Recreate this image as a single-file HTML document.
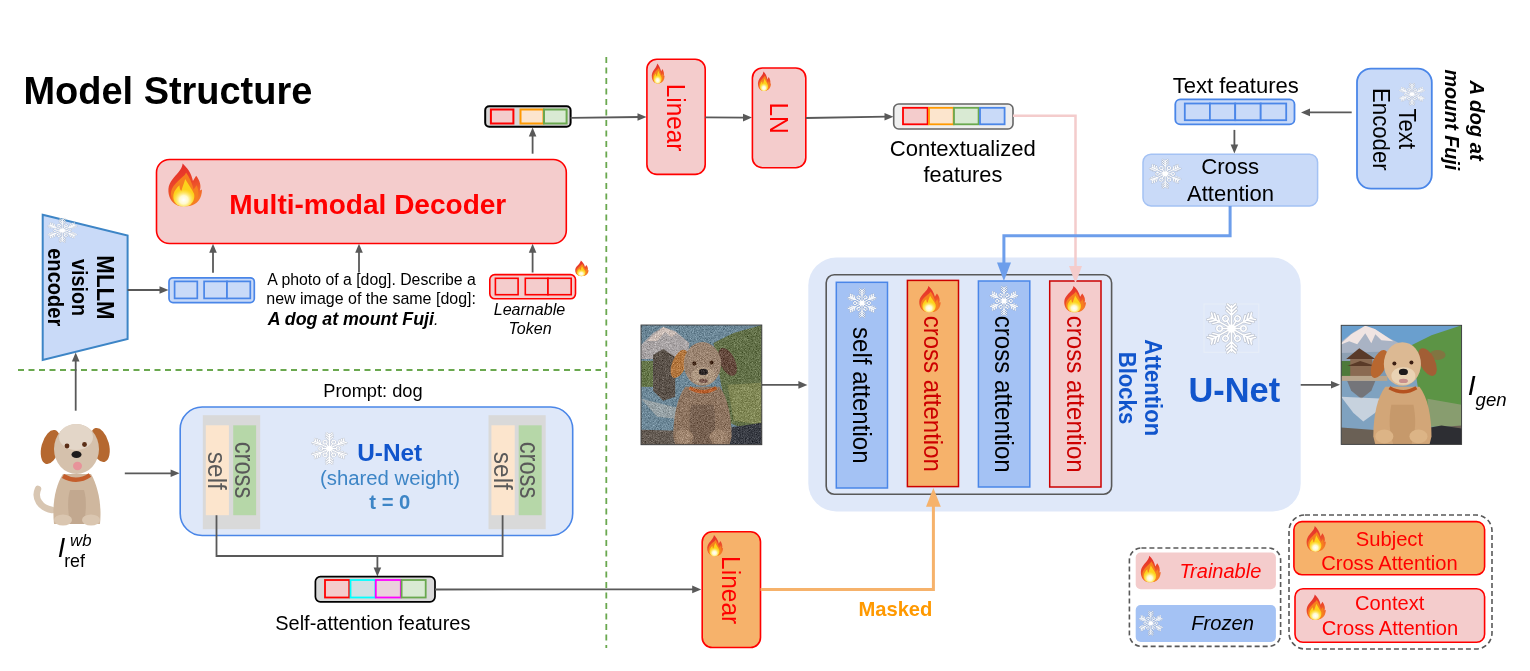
<!DOCTYPE html><html><head><meta charset="utf-8"><style>html,body{margin:0;padding:0;background:#fff;width:1530px;height:671px;overflow:hidden}svg{display:block;font-family:"Liberation Sans", sans-serif;will-change:transform}</style></head><body>
<svg width="1530" height="671" viewBox="0 0 1530 671">
<defs>
<linearGradient id="fg" x1="0" y1="0" x2="0.3" y2="1"><stop offset="0" stop-color="#e3262b"/><stop offset="0.6" stop-color="#ec4a2a"/><stop offset="1" stop-color="#f5792a"/></linearGradient>
<radialGradient id="fc" cx="0.5" cy="0.62" r="0.55"><stop offset="0" stop-color="#ffffff"/><stop offset="0.4" stop-color="#fffbd6" stop-opacity="0.95"/><stop offset="1" stop-color="#fff06a" stop-opacity="0"/></radialGradient>
<g id="flame">
<path d="M13.8 0 C18 4 22 9 23.5 16.5 C24.5 14.5 25.5 13 26.5 11.5 C30 16 31.5 21 30 25.5 C30.8 25.2 31.5 25 32 24.5 C31.8 33 28 38.5 20 40 C17 40.5 12 40.5 9 39.5 C3 37 0 31 0.4 24 C1 17 6 13 10 8 C12 5.5 13.5 3 13.8 0 Z" fill="url(#fg)"/>
<path d="M17 8.5 C20 13 23 19 24 24.5 C25 23.5 26 22 27 20.5 C29.5 26 29 32 26.5 36 C23.5 39.5 19 40 15 40 C9 40 3.5 36.5 2.8 29 C2.5 22 8 18 12 14 C14.5 12 16.5 10.5 17 8.5 Z" fill="#f6801f"/>
<path d="M16.2 14.6 C18.5 19 22.5 24 24.5 28.5 C25.5 32.5 24 37 20 39.5 C17 40.6 12 40.6 9 39 C5.5 37 4.5 33 5.2 29 C6 25.5 8.5 22.5 10.8 20.5 C10.8 23 11.5 25 12.5 26 C13.5 22 15.5 18 16.2 14.6 Z" fill="#fdd21c"/>
<ellipse cx="14.8" cy="32" rx="9.5" ry="9" fill="url(#fc)"/>
</g>
<g id="snowarm"><path d="M0 -1 L0 -15.5 M0 -9 L-3.2 -12.2 M0 -9 L3.2 -12.2 M0 -11.5 L-3.2 -14.7 M0 -11.5 L3.2 -14.7 M0 -14 L-2.6 -16.6 M0 -14 L2.6 -16.6"/><path d="M0 0 L0 -6" transform="rotate(30)"/><circle cx="0" cy="-7.8" r="1.8" transform="rotate(30)"/></g>
<g id="snowall"><use href="#snowarm"/><use href="#snowarm" transform="rotate(60)"/><use href="#snowarm" transform="rotate(120)"/><use href="#snowarm" transform="rotate(180)"/><use href="#snowarm" transform="rotate(240)"/><use href="#snowarm" transform="rotate(300)"/></g>
<g id="snow">
<g stroke="#7a7a7a" stroke-width="1.9" fill="none" stroke-linecap="round" opacity="0.3"><use href="#snowall"/></g>
<g stroke="#ffffff" stroke-width="1.0" fill="none" stroke-linecap="round"><use href="#snowall"/></g>
<circle r="2.8" fill="#fff"/>
</g>
</defs>
<line x1="18" y1="370" x2="601" y2="370" stroke="#6aa84f" stroke-width="1.8" stroke-dasharray="6 4.5"/>
<line x1="606.3" y1="57" x2="606.3" y2="648" stroke="#6aa84f" stroke-width="1.8" stroke-dasharray="6 4.5"/>
<text x="23.53" y="104.00" font-size="37.95" fill="#000" font-weight="bold" font-style="normal" >Model Structure</text>
<rect x="156.5" y="159.5" width="409.8" height="84.0" rx="13.0" fill="#f4cccc" stroke="#ff0000" stroke-width="1.6" />
<text x="229.18" y="214.00" font-size="28.03" fill="#ff0000" font-weight="bold" font-style="normal" >Multi-modal Decoder</text>
<use href="#flame" transform="translate(168.0,163.5) scale(1.0625,1.0625)"/>
<polygon points="42.7,214.7 127.6,235.5 127.6,339 42.7,360" fill="#c9daf8" stroke="#3d85c6" stroke-width="2"/>
<use href="#snow" transform="translate(62.3,230.4) scale(0.9125,0.7125)"/>
<text font-size="22.25" fill="#000" font-weight="bold" font-style="normal" transform="translate(97.00,255.35) rotate(90) scale(1,1.070)">MLLM</text>
<text font-size="19.79" fill="#000" font-weight="bold" font-style="normal" transform="translate(71.80,259.00) rotate(90) scale(1,1.070)">vision</text>
<text font-size="20.10" fill="#000" font-weight="bold" font-style="normal" transform="translate(48.00,248.20) rotate(90) scale(1,1.070)">encoder</text>
<rect x="169.0" y="277.8" width="85.3" height="24.8" rx="4.0" fill="#c9daf8" stroke="#4a86e8" stroke-width="1.7" />
<rect x="174.6" y="281.4" width="22.7" height="17.0" rx="0.0" fill="#c9daf8" stroke="#4a86e8" stroke-width="1.7" />
<rect x="204.1" y="281.4" width="22.9" height="17.0" rx="0.0" fill="#c9daf8" stroke="#4a86e8" stroke-width="1.7" />
<rect x="227.0" y="281.4" width="23.3" height="17.0" rx="0.0" fill="#c9daf8" stroke="#4a86e8" stroke-width="1.7" />
<polyline points="127.6,290.0 162.2,290.0" fill="none" stroke="#595959" stroke-width="1.8"/><polygon points="168.5,290.0 159.5,286.2 159.5,293.8" fill="#595959"/>
<polyline points="213.0,272.7 213.0,250.1" fill="none" stroke="#595959" stroke-width="1.8"/><polygon points="213.0,243.8 209.2,252.8 216.8,252.8" fill="#595959"/>
<polyline points="359.0,272.5 359.0,250.1" fill="none" stroke="#595959" stroke-width="1.8"/><polygon points="359.0,243.8 355.2,252.8 362.8,252.8" fill="#595959"/>
<polyline points="532.6,272.5 532.6,250.1" fill="none" stroke="#595959" stroke-width="1.8"/><polygon points="532.6,243.8 528.8,252.8 536.4,252.8" fill="#595959"/>
<text x="267.30" y="284.60" font-size="15.83" fill="#000" font-weight="normal" font-style="normal" >A photo of a [dog]. Describe a</text>
<text x="266.26" y="303.60" font-size="15.99" fill="#000" font-weight="normal" font-style="normal" >new image of the same [dog]:</text>
<text x="267.66" y="324.7" font-size="17.79" fill="#000"><tspan font-weight="bold" font-style="italic">A dog at mount Fuji</tspan><tspan font-style="italic" font-size="15.8">.</tspan></text>
<rect x="489.8" y="274.6" width="85.7" height="24.2" rx="5.0" fill="#f4cccc" stroke="#ff0000" stroke-width="1.6" />
<rect x="495.4" y="278.3" width="22.7" height="16.4" rx="0.0" fill="#f4cccc" stroke="#ff0000" stroke-width="1.6" />
<rect x="525.3" y="278.3" width="22.7" height="16.4" rx="0.0" fill="#f4cccc" stroke="#ff0000" stroke-width="1.6" />
<rect x="548.0" y="278.3" width="23.2" height="16.4" rx="0.0" fill="#f4cccc" stroke="#ff0000" stroke-width="1.6" />
<use href="#flame" transform="translate(575.0,260.6) scale(0.4250,0.3850)"/>
<text x="493.72" y="314.90" font-size="16.07" fill="#000" font-weight="normal" font-style="italic" >Learnable</text>
<text x="508.56" y="333.85" font-size="16.04" fill="#000" font-weight="normal" font-style="italic" >Token</text>
<rect x="485.2" y="106.3" width="85.4" height="20.5" rx="4.0" fill="#d9d9d9" stroke="#000" stroke-width="2" />
<rect x="490.9" y="109.5" width="22.5" height="14.0" rx="0.0" fill="#f4cccc" stroke="#ff0000" stroke-width="2" />
<rect x="520.5" y="109.5" width="23.0" height="14.0" rx="0.0" fill="#fce5cd" stroke="#ff9900" stroke-width="2" />
<rect x="544.0" y="109.5" width="22.6" height="14.0" rx="0.0" fill="#d9ead3" stroke="#6aa84f" stroke-width="2" />
<polyline points="532.6,153.7 532.6,133.8" fill="none" stroke="#595959" stroke-width="1.8"/><polygon points="532.6,127.5 528.8,136.5 536.4,136.5" fill="#595959"/>
<polyline points="570.6,117.8 640.2,117.0" fill="none" stroke="#595959" stroke-width="1.8"/><polygon points="646.5,117.0 637.5,113.2 637.5,120.8" fill="#595959"/>
<rect x="646.9" y="59.2" width="58.3" height="115.2" rx="10.0" fill="#f4cccc" stroke="#ff0000" stroke-width="1.6" />
<text font-size="24.37" fill="#ff0000" font-weight="normal" font-style="normal" transform="translate(666.60,83.75) rotate(90) scale(1,1.070)">Linear</text>
<use href="#flame" transform="translate(651.6,63.4) scale(0.4062,0.4975)"/>
<polyline points="705.2,117.4 745.7,117.6" fill="none" stroke="#595959" stroke-width="1.8"/><polygon points="752.0,117.6 743.0,113.8 743.0,121.4" fill="#595959"/>
<rect x="752.4" y="68.0" width="53.4" height="99.7" rx="10.0" fill="#f4cccc" stroke="#ff0000" stroke-width="1.6" />
<text font-size="24.57" fill="#ff0000" font-weight="normal" font-style="normal" transform="translate(769.90,102.43) rotate(90) scale(1,1.070)">LN</text>
<use href="#flame" transform="translate(757.8,71.4) scale(0.4125,0.4850)"/>
<polyline points="805.8,118.0 887.2,116.7" fill="none" stroke="#595959" stroke-width="1.8"/><polygon points="893.5,116.7 884.5,112.9 884.5,120.5" fill="#595959"/>
<rect x="893.7" y="104.0" width="119.3" height="25.0" rx="5.0" fill="#efefef" stroke="#666666" stroke-width="1.6" />
<rect x="903.0" y="107.8" width="24.6" height="16.5" rx="0.0" fill="#f4cccc" stroke="#ff0000" stroke-width="1.8" />
<rect x="929.0" y="107.8" width="24.6" height="16.5" rx="0.0" fill="#fce5cd" stroke="#ff9900" stroke-width="1.8" />
<rect x="954.0" y="107.8" width="24.6" height="16.5" rx="0.0" fill="#d9ead3" stroke="#6aa84f" stroke-width="1.8" />
<rect x="980.0" y="107.8" width="24.6" height="16.5" rx="0.0" fill="#c9daf8" stroke="#4a86e8" stroke-width="1.8" />
<text x="889.70" y="156.10" font-size="22.09" fill="#000" font-weight="normal" font-style="normal" >Contextualized</text>
<text x="923.57" y="182.20" font-size="21.82" fill="#000" font-weight="normal" font-style="normal" >features</text>
<text x="1172.76" y="92.70" font-size="22.03" fill="#000" font-weight="normal" font-style="normal" >Text features</text>
<rect x="1175.3" y="99.3" width="119.2" height="25.1" rx="5.0" fill="#c9daf8" stroke="#4a86e8" stroke-width="1.8" />
<rect x="1184.8" y="103.5" width="25.1" height="16.7" rx="0.0" fill="#c9daf8" stroke="#4a86e8" stroke-width="1.8" />
<rect x="1209.9" y="103.5" width="25.3" height="16.7" rx="0.0" fill="#c9daf8" stroke="#4a86e8" stroke-width="1.8" />
<rect x="1235.2" y="103.5" width="25.5" height="16.7" rx="0.0" fill="#c9daf8" stroke="#4a86e8" stroke-width="1.8" />
<rect x="1260.7" y="103.5" width="25.5" height="16.7" rx="0.0" fill="#c9daf8" stroke="#4a86e8" stroke-width="1.8" />
<polyline points="1351.7,112.4 1307.3,112.4" fill="none" stroke="#595959" stroke-width="1.8"/><polygon points="1301.0,112.4 1310.0,108.6 1310.0,116.2" fill="#595959"/>
<polyline points="1234.4,129.9 1234.4,147.2" fill="none" stroke="#595959" stroke-width="1.8"/><polygon points="1234.4,153.5 1230.6,144.5 1238.2,144.5" fill="#595959"/>
<rect x="1143.0" y="154.2" width="174.6" height="51.7" rx="8.0" fill="#c9daf8" stroke="#a4c2f4" stroke-width="1.5" />
<text x="1201.19" y="174.30" font-size="22.18" fill="#000" font-weight="normal" font-style="normal" >Cross</text>
<text x="1187.00" y="201.30" font-size="22.06" fill="#000" font-weight="normal" font-style="normal" >Attention</text>
<use href="#snow" transform="translate(1165.2,173.8) scale(0.9844,0.8625)"/>
<rect x="1357.0" y="68.6" width="74.8" height="120.1" rx="14.0" fill="#c9daf8" stroke="#4a86e8" stroke-width="1.8" />
<use href="#snow" transform="translate(1412.0,94.2) scale(0.7969,0.6531)"/>
<text font-size="22.16" fill="#000" font-weight="normal" font-style="normal" transform="translate(1399.30,108.46) rotate(90) scale(1,1.070)">Text</text>
<text font-size="22.18" fill="#000" font-weight="normal" font-style="normal" transform="translate(1372.50,88.03) rotate(90) scale(1,1.070)">Encoder</text>
<text font-size="20.27" fill="#000" font-weight="bold" font-style="italic" transform="translate(1470.00,80.51) rotate(90) scale(1,1.000)">A dog at</text>
<text font-size="19.75" fill="#000" font-weight="bold" font-style="italic" transform="translate(1445.00,69.40) rotate(90) scale(1,1.000)">mount Fuji</text>
<rect x="808.3" y="257.5" width="492.4" height="254.0" rx="28.0" fill="#dfe8f9" stroke="none" stroke-width="0" />
<rect x="826.2" y="274.8" width="285.4" height="219.4" rx="8.0" fill="none" stroke="#595959" stroke-width="1.6" />
<rect x="836.3" y="282.3" width="51.2" height="205.7" rx="0.0" fill="#a4c2f4" stroke="#4a86e8" stroke-width="1.5" />
<rect x="907.4" y="280.4" width="51.1" height="206.2" rx="0.0" fill="#f6b26b" stroke="#cc0000" stroke-width="1.5" />
<rect x="978.4" y="281.0" width="51.4" height="206.0" rx="0.0" fill="#a4c2f4" stroke="#4a86e8" stroke-width="1.5" />
<rect x="1049.7" y="281.0" width="51.3" height="206.0" rx="0.0" fill="#f4cccc" stroke="#cc0000" stroke-width="1.5" />
<use href="#snow" transform="translate(862.0,303.1) scale(0.8937,0.8594)"/>
<use href="#flame" transform="translate(919.0,285.9) scale(0.6781,0.6525)"/>
<use href="#snow" transform="translate(1004.0,301.0) scale(0.8750,0.8750)"/>
<use href="#flame" transform="translate(1064.0,285.9) scale(0.6875,0.6525)"/>
<text font-size="24.09" fill="#000" font-weight="normal" font-style="normal" transform="translate(853.00,326.98) rotate(90) scale(1,1.070)">self attention</text>
<text font-size="24.02" fill="#cc0000" font-weight="normal" font-style="normal" transform="translate(924.20,315.74) rotate(90) scale(1,1.070)">cross attention</text>
<text font-size="24.16" fill="#000" font-weight="normal" font-style="normal" transform="translate(995.00,315.73) rotate(90) scale(1,1.070)">cross attention</text>
<text font-size="24.16" fill="#cc0000" font-weight="normal" font-style="normal" transform="translate(1066.50,315.73) rotate(90) scale(1,1.070)">cross attention</text>
<text font-size="22.09" fill="#1155cc" font-weight="bold" font-style="normal" transform="translate(1144.80,339.35) rotate(90) scale(1,1.070)">Attention</text>
<text font-size="22.14" fill="#1155cc" font-weight="bold" font-style="normal" transform="translate(1118.60,351.66) rotate(90) scale(1,1.070)">Blocks</text>
<text x="1188.54" y="402.00" font-size="34.34" fill="#1155cc" font-weight="bold" font-style="normal" >U-Net</text>
<rect x="1204.0" y="304.0" width="54.8" height="48.3" rx="0.0" fill="none" stroke="#e8eef8" stroke-width="1" />
<use href="#snow" transform="translate(1231.5,328.5) scale(1.5312,1.4688)"/>
<polyline points="1300.7,384.8 1333.7,384.8" fill="none" stroke="#595959" stroke-width="1.8"/><polygon points="1340.0,384.8 1331.0,381.0 1331.0,388.6" fill="#595959"/>
<polyline points="762.0,384.9 801.1,384.9" fill="none" stroke="#595959" stroke-width="1.8"/><polygon points="807.4,384.9 798.4,381.1 798.4,388.7" fill="#595959"/>
<text x="1467.76" y="394.80" font-size="28.55" fill="#000" font-weight="normal" font-style="italic">I</text>
<text x="1475.60" y="405.60" font-size="18.64" fill="#000" font-weight="normal" font-style="italic" >gen</text>
<polyline points="1013.0,115.7 1075.5,115.7 1075.5,268.0" fill="none" stroke="#f4cccc" stroke-width="2.5"/>
<polygon points="1075.5,283.5 1069,266 1082,266" fill="#f4cccc"/>
<polyline points="1230.1,206.0 1230.1,235.8 1003.9,235.8 1003.9,264.0" fill="none" stroke="#6d9eeb" stroke-width="3"/>
<polygon points="1003.9,281 997,262.5 1011,262.5" fill="#6d9eeb"/>
<polyline points="75.7,410.7 75.7,358.7" fill="none" stroke="#595959" stroke-width="1.8"/><polygon points="75.7,352.4 71.9,361.4 79.5,361.4" fill="#595959"/>
<polyline points="124.8,473.3 173.3,473.3" fill="none" stroke="#595959" stroke-width="1.8"/><polygon points="179.6,473.3 170.6,469.5 170.6,477.1" fill="#595959"/>
<rect x="180.2" y="407.0" width="392.5" height="128.5" rx="22.0" fill="#dfe8f9" stroke="#4a86e8" stroke-width="1.6" />
<rect x="202.8" y="415.2" width="57.4" height="114.0" rx="0.0" fill="#d9d9d9" stroke="none" stroke-width="1.5" />
<rect x="205.8" y="425.3" width="23.1" height="89.9" rx="0.0" fill="#fce5cd" stroke="none" stroke-width="1.5" />
<rect x="233.2" y="425.3" width="22.9" height="89.9" rx="0.0" fill="#b6d7a8" stroke="none" stroke-width="1.5" />
<text font-size="24.51" fill="#595959" font-weight="normal" font-style="normal" transform="translate(208.00,451.76) rotate(90) scale(1,1.070)">self</text>
<text font-size="23.71" fill="#595959" font-weight="normal" font-style="normal" transform="translate(234.70,441.65) rotate(90) scale(1,1.150)">cross</text>
<rect x="488.5" y="415.2" width="57.2" height="114.0" rx="0.0" fill="#d9d9d9" stroke="none" stroke-width="1.5" />
<rect x="491.4" y="425.3" width="23.3" height="89.9" rx="0.0" fill="#fce5cd" stroke="none" stroke-width="1.5" />
<rect x="518.7" y="425.3" width="23.0" height="89.9" rx="0.0" fill="#b6d7a8" stroke="none" stroke-width="1.5" />
<text font-size="24.51" fill="#595959" font-weight="normal" font-style="normal" transform="translate(493.70,451.76) rotate(90) scale(1,1.070)">self</text>
<text font-size="23.71" fill="#595959" font-weight="normal" font-style="normal" transform="translate(520.40,441.65) rotate(90) scale(1,1.150)">cross</text>
<text x="323.24" y="396.60" font-size="18.25" fill="#000" font-weight="normal" font-style="normal" >Prompt: dog</text>
<use href="#snow" transform="translate(329.4,448.5) scale(1.1094,0.9438)"/>
<text x="357.13" y="461.10" font-size="24.43" fill="#1155cc" font-weight="bold" font-style="normal" >U-Net</text>
<text x="319.98" y="484.80" font-size="20.32" fill="#3d85c6" font-weight="normal" font-style="normal" >(shared weight)</text>
<text x="369.30" y="509.00" font-size="20.20" fill="#3d85c6" font-weight="bold" font-style="normal" >t = 0</text>
<polyline points="216.5,515.2 216.5,556.0 502.6,556.0 502.6,515.2" fill="none" stroke="#595959" stroke-width="1.8"/>
<polyline points="377.4,556.0 377.4,570.2" fill="none" stroke="#595959" stroke-width="1.8"/><polygon points="377.4,576.5 373.6,567.5 381.2,567.5" fill="#595959"/>
<rect x="315.4" y="576.6" width="119.6" height="25.2" rx="5.0" fill="#d9d9d9" stroke="#000" stroke-width="1.7" />
<rect x="325.0" y="580.0" width="24.2" height="17.5" rx="0.0" fill="#f4cccc" stroke="#ff0000" stroke-width="1.8" />
<rect x="350.5" y="580.0" width="24.9" height="17.5" rx="0.0" fill="#d0e0e3" stroke="#00ffff" stroke-width="1.8" />
<rect x="375.8" y="580.0" width="25.0" height="17.5" rx="0.0" fill="#ead1dc" stroke="#ff00ff" stroke-width="1.8" />
<rect x="401.6" y="580.0" width="24.1" height="17.5" rx="0.0" fill="#d9ead3" stroke="#6aa84f" stroke-width="1.8" />
<text x="275.30" y="630.00" font-size="19.94" fill="#000" font-weight="normal" font-style="normal" >Self-attention features</text>
<polyline points="435.0,589.5 694.9,589.4" fill="none" stroke="#595959" stroke-width="1.8"/><polygon points="701.2,589.4 692.2,585.6 692.2,593.2" fill="#595959"/>
<text x="57.82" y="557.20" font-size="26.96" fill="#000" font-weight="normal" font-style="italic">I</text>
<text x="70.06" y="545.90" font-size="16.82" fill="#000" font-weight="normal" font-style="italic" >wb</text>
<text x="64.14" y="566.90" font-size="17.83" fill="#000" font-weight="normal" font-style="normal" >ref</text>
<rect x="702.2" y="531.8" width="58.3" height="115.7" rx="10.0" fill="#f6b26b" stroke="#ff0000" stroke-width="1.6" />
<text font-size="24.55" fill="#ff0000" font-weight="normal" font-style="normal" transform="translate(721.70,556.04) rotate(90) scale(1,1.070)">Linear</text>
<use href="#flame" transform="translate(707.0,535.0) scale(0.5031,0.5250)"/>
<polyline points="760.5,589.4 933.4,589.4 933.4,505.0" fill="none" stroke="#f6b26b" stroke-width="3"/>
<polygon points="933.4,488 926,506.8 940.8,506.8" fill="#f6b26b"/>
<text x="858.39" y="615.90" font-size="20.20" fill="#ff9900" font-weight="bold" font-style="normal" >Masked</text>
<rect x="1129.4" y="548.0" width="151.2" height="98.4" rx="12.0" fill="none" stroke="#595959" stroke-width="1.6" stroke-dasharray="5 3"/>
<rect x="1135.7" y="552.5" width="140.2" height="36.7" rx="5.0" fill="#f4cccc" stroke="none" stroke-width="0" />
<text x="1179.40" y="577.80" font-size="20.00" fill="#ff0000" font-weight="normal" font-style="italic" >Trainable</text>
<use href="#flame" transform="translate(1140.6,555.8) scale(0.6281,0.6550)"/>
<rect x="1135.7" y="605.1" width="140.2" height="36.9" rx="5.0" fill="#a4c2f4" stroke="none" stroke-width="0" />
<text x="1191.20" y="630.40" font-size="20.16" fill="#000" font-weight="normal" font-style="italic" >Frozen</text>
<use href="#snow" transform="translate(1150.8,623.2) scale(0.7344,0.7219)"/>
<rect x="1289.0" y="515.0" width="203.0" height="134.0" rx="16.0" fill="none" stroke="#595959" stroke-width="1.6" stroke-dasharray="5 3"/>
<rect x="1293.9" y="521.6" width="190.7" height="53.1" rx="8.0" fill="#f6b26b" stroke="#ff0000" stroke-width="1.6" />
<text x="1355.79" y="545.60" font-size="20.18" fill="#ff0000" font-weight="normal" font-style="normal" >Subject</text>
<text x="1321.19" y="570.40" font-size="20.14" fill="#ff0000" font-weight="normal" font-style="normal" >Cross Attention</text>
<use href="#flame" transform="translate(1306.4,526.0) scale(0.6062,0.6350)"/>
<rect x="1295.0" y="588.8" width="189.6" height="53.5" rx="8.0" fill="#f4cccc" stroke="#ff0000" stroke-width="1.6" />
<text x="1355.10" y="610.20" font-size="20.09" fill="#ff0000" font-weight="normal" font-style="normal" >Context</text>
<text x="1321.69" y="634.70" font-size="20.15" fill="#ff0000" font-weight="normal" font-style="normal" >Cross Attention</text>
<use href="#flame" transform="translate(1306.4,594.5) scale(0.6062,0.6250)"/>
<defs>
<linearGradient id="sky" x1="0" y1="0" x2="0" y2="1"><stop offset="0" stop-color="#5b8fc0"/><stop offset="1" stop-color="#a8c2d6"/></linearGradient>
<linearGradient id="lake" x1="0" y1="0" x2="0" y2="1"><stop offset="0" stop-color="#8aa9c0"/><stop offset="1" stop-color="#4f7591"/></linearGradient>
<filter id="addnoise" x="0" y="0" width="1" height="1" color-interpolation-filters="sRGB"><feTurbulence type="fractalNoise" baseFrequency="1.3" numOctaves="2" seed="7" result="t"/><feColorMatrix in="t" type="matrix" values="0.33 0.33 0.33 0 0  0.33 0.33 0.33 0 0  0.33 0.33 0.33 0 0  0 0 0 0 1" result="g"/><feComposite in="SourceGraphic" in2="g" operator="arithmetic" k1="0" k2="1" k3="0.8" k4="-0.4"/></filter>
</defs>
<clipPath id="cg"><rect x="0" y="0" width="120" height="120"/></clipPath><g transform="translate(1341.20,325.30) scale(1.0033,0.9925)"><g clip-path="url(#cg)"><rect x="0" y="0" width="120" height="120" fill="#7fa2c0"/><rect x="0" y="0" width="120" height="40" fill="#6a9fce"/><polygon points="-2,18 12,7 24,0.5 32,3 48,13 58,18 66,36 -2,36" fill="#a9b3c4"/><polygon points="-2,20 10,9 24,0.5 34,4 52,16 40,15 34,9 30,18 24,8 16,19 8,16" fill="#f0e4e2"/><polygon points="0,28 60,26 70,52 0,52" fill="#7c93a8" opacity="0.6"/><polygon points="70,20 90,10 120,0 120,102 84,102 76,60" fill="#5c9445"/><ellipse cx="96" cy="30" rx="8" ry="5" fill="#9a6040" opacity="0.6"/><polygon points="86,74 120,80 120,102 86,102" fill="#97a07e" opacity="0.75"/><rect x="0" y="36" width="11" height="16" fill="#4d7a3a"/><polygon points="5,34 18,23 34,34" fill="#5a3a28"/><rect x="9" y="34" width="22" height="18" fill="#8a6a52"/><polygon points="6,41 19,36 34,41" fill="#5a3a28"/><rect x="0" y="51" width="46" height="5" fill="#b8a58c"/><polygon points="6,56 34,56 30,66 20,74 10,66" fill="#6e5e55" opacity="0.65"/><polygon points="0,72 12,88 22,97 34,88 44,74" fill="#dfe2e8" opacity="0.75"/><polygon points="0,103 40,106 80,104 120,101 120,120 0,120" fill="#6a6055"/><polygon points="78,105 100,101 120,104 120,120 76,120" fill="#2d2e33"/><path d="M44 62 C36 72 32 92 32 112 L34 120 L88 120 L90 112 C90 92 86 72 78 62 Z" fill="#d2a678"/><path d="M50 80 C47 95 48 108 52 120 L70 120 C74 108 75 95 72 80 Z" fill="#b8895c" opacity="0.45"/><ellipse cx="43" cy="112" rx="9" ry="7" fill="#dcb486"/><ellipse cx="77" cy="112" rx="9" ry="7" fill="#dcb486"/><ellipse cx="38" cy="39" rx="7" ry="15" transform="rotate(22 38 39)" fill="#b8672f"/><ellipse cx="86" cy="37" rx="7.5" ry="15" transform="rotate(-25 86 37)" fill="#a25e35"/><ellipse cx="61" cy="39" rx="18.5" ry="22" fill="#dcb993"/><ellipse cx="62" cy="51" rx="12" ry="9" fill="#e9d2b3"/><circle cx="53" cy="38.5" r="2" fill="#3a1d12"/><circle cx="70" cy="37.5" r="2" fill="#3a1d12"/><ellipse cx="62" cy="47" rx="4.5" ry="3.2" fill="#1d1a1a"/><ellipse cx="62" cy="56" rx="4.5" ry="2.2" fill="#c98f8c"/><path d="M48 63 Q62 71 75 63" stroke="#b5521f" stroke-width="3.5" fill="none"/></g><rect x="0" y="0" width="120" height="120" fill="none" stroke="#3a3a3a" stroke-width="0.9"/></g>
<clipPath id="cn"><rect x="0" y="0" width="120" height="120"/></clipPath><g transform="translate(641.00,325.00) scale(1.0067,0.9975)"><g clip-path="url(#cn)"><g filter="url(#addnoise)"><rect x="0" y="0" width="120" height="120" fill="#6d8898"/><polygon points="-2,22 12,8 22,2 34,6 48,18 46,34 -2,34" fill="#aaa5a6"/><polygon points="6,16 22,2 36,8 30,12 24,7 16,16" fill="#cdbfb8"/><polygon points="72,18 92,8 120,0 120,112 88,98 80,62" fill="#64724a"/><polygon points="86,60 120,58 120,100 92,96" fill="#8a8f5a" opacity="0.8"/><rect x="0" y="36" width="12" height="26" fill="#66774a"/><polygon points="12,30 22,24 34,32 34,72 22,76 12,66" fill="#5c534b"/><polygon points="0,74 16,92 34,94 40,84" fill="#b6b6b0" opacity="0.6"/><polygon points="0,105 40,106 80,104 120,100 120,120 0,120" fill="#665d55"/><polygon points="80,104 120,98 120,120 82,120" fill="#3b3e46"/><path d="M44 62 C36 72 32 92 32 112 L34 120 L88 120 L90 112 C90 92 86 72 78 62 Z" fill="#8f7662"/><path d="M50 80 C47 95 48 108 52 120 L70 120 C74 108 75 95 72 80 Z" fill="#5e4c40" opacity="0.45"/><ellipse cx="43" cy="112" rx="9" ry="7" fill="#a08670"/><ellipse cx="77" cy="112" rx="9" ry="7" fill="#a08670"/><ellipse cx="38" cy="39" rx="7" ry="15" transform="rotate(22 38 39)" fill="#b3773f"/><ellipse cx="86" cy="37" rx="7.5" ry="15" transform="rotate(-25 86 37)" fill="#654a3e"/><ellipse cx="61" cy="39" rx="18.5" ry="22" fill="#9c8572"/><ellipse cx="62" cy="51" rx="12" ry="9" fill="#b09a84"/><circle cx="53" cy="38.5" r="2" fill="#3a2010"/><circle cx="70" cy="37.5" r="2" fill="#3a2010"/><ellipse cx="62" cy="47" rx="4.5" ry="3.2" fill="#2a2424"/><ellipse cx="62" cy="56" rx="4.5" ry="2.2" fill="#7a5a50"/><path d="M48 63 Q62 71 75 63" stroke="#b8602e" stroke-width="3.5" fill="none"/></g></g><rect x="0" y="0" width="120" height="120" fill="none" stroke="#3a3a3a" stroke-width="0.9"/></g>
<g>
<path d="M52 510 C40 508 34 498 38 489" stroke="#d8c6b2" stroke-width="6.5" fill="none" stroke-linecap="round"/>
<path d="M63 474 C55 486 52 505 54 524 L100 524 C102 505 98 486 91 474 Z" fill="#cfb79e"/>
<path d="M70 490 C67 500 68 512 70 524 L84 524 C86 512 87 500 84 490 Z" fill="#b99f86" opacity="0.6"/>
<ellipse cx="63" cy="520" rx="9" ry="5.5" fill="#dac6b0"/>
<ellipse cx="91" cy="520" rx="9" ry="5.5" fill="#dac6b0"/>
<ellipse cx="50.5" cy="447" rx="9" ry="17.5" transform="rotate(15 50.5 447)" fill="#b5682f"/>
<ellipse cx="100" cy="445" rx="9" ry="17.5" transform="rotate(-15 100 445)" fill="#b5682f"/>
<ellipse cx="76.5" cy="449" rx="22.5" ry="25" fill="#d5c1ac"/>
<ellipse cx="76" cy="437" rx="17" ry="13" fill="#e3d6c8"/>
<circle cx="67" cy="446" r="2.4" fill="#5a2e16"/><circle cx="84.5" cy="444.5" r="2.4" fill="#5a2e16"/>
<ellipse cx="76.5" cy="454.5" rx="5" ry="3.6" fill="#1d1a1a"/>
<ellipse cx="77.5" cy="466" rx="4.5" ry="4.2" fill="#e7939a"/>
<path d="M63 476 Q77 484 90 475" stroke="#c45e2c" stroke-width="4.5" fill="none"/>
</g>
</svg></body></html>
